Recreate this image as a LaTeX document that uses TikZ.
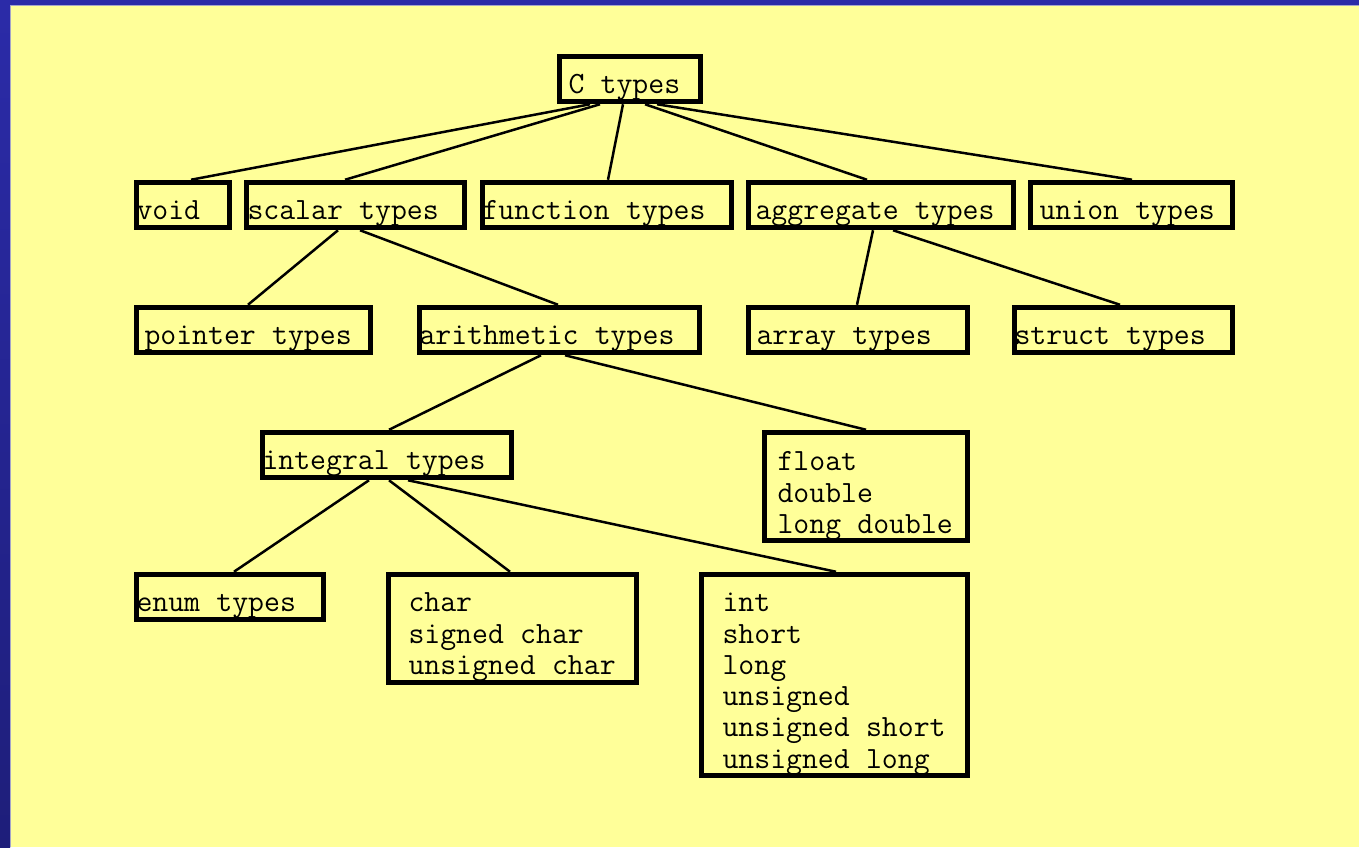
\documentclass[tikz,border=0pt]{standalone}
\usepackage{fontspec}
\usetikzlibrary{calc}
\definecolor{bgyellow}{RGB}{255,255,153}
\definecolor{frameblue}{RGB}{43,43,168}
\definecolor{frameblued}{RGB}{30,30,122}
\definecolor{edgegrey}{RGB}{165,165,200}
\newcommand\ms{\hbox to 0.525em{}}
\begin{document}
\begin{tikzpicture}[x=1pt,y=-1pt,
  box/.style={draw=black, line width=5.5pt, rectangle, inner xsep=0pt, inner ysep=0pt,
    align=left, minimum height=45pt,
    font=\ttfamily\fontsize{30.9}{31.3}\selectfont, text height=28pt, text depth=0pt},
  multi/.style={text height=0pt},
  link/.style={draw=black, line width=2.5pt}]
\useasboundingbox (0,0) rectangle (1359,847);
% background
\fill[bgyellow] (0,0) rectangle (1359,847);
\fill[frameblue] (0,0) rectangle (1359,5);
\shade[top color=frameblue, bottom color=frameblued] (0,0) rectangle (10,847);
\draw[edgegrey, line width=1pt] (10.5,847) -- (10.5,5.5) -- (1359,5.5);
% nodes
\node[box, minimum width=141pt, text width=141pt] (ctypes) at (630,79) {\hspace*{9pt}C\ms types};
\node[box, minimum width=93pt, text width=93pt] (void) at (183,205) {void};
\node[box, minimum width=218pt, text width=218pt] (scalar) at (355.5,205) {\hspace*{1pt}scalar\ms types};
\node[box, minimum width=249pt, text width=249pt] (function) at (607,205) {function\ms types};
\node[box, minimum width=265pt, text width=265pt] (aggregate) at (881,205) {\hspace*{7pt}aggregate\ms types};
\node[box, minimum width=202pt, text width=202pt] (union) at (1131.5,205) {\hspace*{9pt}union\ms types};
\node[box, minimum width=234pt, text width=234pt] (pointer) at (253.5,330) {\hspace*{8pt}pointer\ms types};
\node[box, minimum width=280pt, text width=280pt] (arith) at (559.5,330) {arithmetic\ms types};
\node[box, minimum width=219pt, text width=219pt] (array) at (858,330) {\hspace*{8pt}array\ms types};
\node[box, minimum width=218pt, text width=218pt] (struct) at (1123.5,330) {struct\ms types};
\node[box, minimum width=249pt, text width=249pt] (integral) at (387,455) {integral\ms types};
\node[box, multi, minimum width=203pt, text width=203pt, minimum height=108pt, text depth=31.6pt] (float) at (866,486.5)
  {\hspace*{13pt}float\\\hspace*{13pt}double\\\hspace*{13pt}long\ms double};
\node[box, minimum width=187pt, text width=187pt] (enum) at (230,597) {enum\ms types};
\node[box, multi, minimum width=248pt, text width=248pt, minimum height=108pt, text depth=33.6pt] (char) at (512.5,628.5)
  {\hspace*{20pt}char\\\hspace*{20pt}signed\ms char\\\hspace*{20pt}unsigned\ms char};
\node[box, multi, minimum width=266pt, text width=266pt, minimum height=201pt, text depth=126.6pt] (int) at (834.5,675)
  {\hspace*{21pt}int\\\hspace*{21pt}short\\\hspace*{21pt}long\\\hspace*{21pt}unsigned\\\hspace*{21pt}unsigned\ms short\\\hspace*{21pt}unsigned\ms long};
% connectors
\draw[link] ([xshift=-40pt]ctypes.south) -- ([xshift=8pt]void.north);
\draw[link] ([xshift=-30pt]ctypes.south) -- ([xshift=-10.5pt]scalar.north);
\draw[link] ([xshift=-7pt]ctypes.south) -- ([xshift=1pt]function.north);
\draw[link] ([xshift=15pt]ctypes.south) -- ([xshift=-14pt]aggregate.north);
\draw[link] ([xshift=27pt]ctypes.south) -- ([xshift=0.5pt]union.north);
\draw[link] ([xshift=-17.5pt]scalar.south) -- ([xshift=-5.5pt]pointer.north);
\draw[link] ([xshift=4.5pt]scalar.south) -- ([xshift=-1.5pt]arith.north);
\draw[link] ([xshift=-8pt]aggregate.south) -- ([xshift=-1pt]array.north);
\draw[link] ([xshift=12pt]aggregate.south) -- ([xshift=-3.5pt]struct.north);
\draw[link] ([xshift=-18.5pt]arith.south) -- ([xshift=2pt]integral.north);
\draw[link] ([xshift=5.5pt]arith.south) -- (float.north);
\draw[link] ([xshift=-18pt]integral.south) -- ([xshift=4pt]enum.north);
\draw[link] ([xshift=2pt]integral.south) -- ([xshift=-2.5pt]char.north);
\draw[link] ([xshift=21pt]integral.south) -- ([xshift=1.5pt]int.north);
\end{tikzpicture}
\end{document}
